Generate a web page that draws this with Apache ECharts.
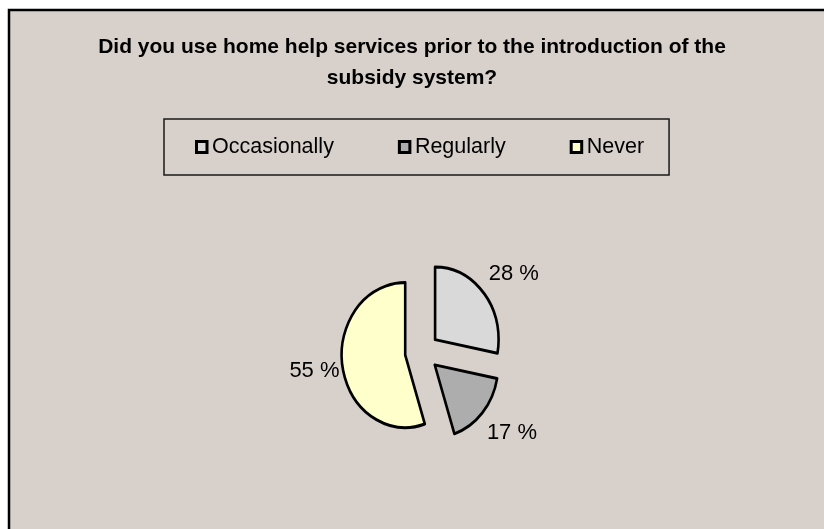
<!DOCTYPE html>
<html>
<head>
<meta charset="utf-8">
<title>Home help services</title>
<script src="https://cdn.jsdelivr.net/npm/echarts@6/dist/echarts.min.js"></script>
<style>
  html, body { margin: 0; padding: 0; background: #fff; }
  #chart { width: 824px; height: 529px; }
</style>
</head>
<body>
<div id="chart"></div>
<script>
const titleText = 'Did you use home help services prior to the introduction of the\nsubsidy system?'
const categories = ['Occasionally', 'Regularly', 'Never']
const shares = [28, 17, 55]
const sliceColors = ['#d9d9d9', '#adadad', '#ffffcc']

const total = shares.reduce((a, b) => a + b, 0)

// pie layout - the original is drawn a bit taller than wide
const pieCenter = [422, 352]
const radiusX = 63.5
const stretchY = 1.142
const explode = 17

function sliceRenderer(idx) {
  return function (params, api) {
    let before = 0
    for (let i = 0; i < idx; i++) before += shares[i]
    const start = -Math.PI / 2 + before / total * Math.PI * 2
    const end = start + api.value(0) / total * Math.PI * 2
    const mid = (start + end) / 2
    const cos = Math.cos(mid)
    const sin = Math.sin(mid)
    const cx = pieCenter[0] + explode * cos
    const cy = pieCenter[1] + explode * sin * stretchY
    // point on the rim at the middle of the slice
    const ex = cx + radiusX * cos
    const ey = cy + radiusX * stretchY * sin
    return {
      type: 'group',
      children: [{
        type: 'sector',
        x: cx,
        y: cy,
        scaleY: stretchY,
        shape: { cx: 0, cy: 0, r0: 0, r: radiusX, startAngle: start, endAngle: end, clockwise: true },
        style: { fill: api.visual('color'), stroke: '#000', lineWidth: 2.6, strokeNoScale: true, lineJoin: 'round' }
      }, {
        type: 'text',
        x: ex + (cos >= 0 ? 6 : 3) * cos,
        y: ey + 31 * sin,
        style: {
          text: api.value(0) + ' %',
          fill: '#000',
          fontFamily: 'Arial, "Liberation Sans"',
          fontSize: 22,
          align: cos >= 0 ? 'left' : 'right',
          verticalAlign: 'middle'
        }
      }]
    }
  }
}

const chart = echarts.init(document.getElementById('chart'))

chart.setOption({
  animation: false,
  color: sliceColors,
  graphic: [{
    type: 'rect',
    silent: true,
    z: -10,
    shape: { x: 9, y: 10, width: 840, height: 540 },
    style: { fill: '#d8d0cb', stroke: '#000', lineWidth: 2.5 }
  }],
  title: {
    text: titleText,
    left: 'center',
    top: 27,
    textStyle: {
      fontFamily: 'Arial, "Liberation Sans"',
      fontWeight: 'bold',
      fontSize: 21,
      lineHeight: 31,
      color: '#000'
    }
  },
  legend: {
    data: categories,
    left: 164,
    top: 119,
    padding: [17, 25, 17, 31],
    itemGap: 64,
    itemWidth: 10.5,
    itemHeight: 11,
    icon: 'rect',
    borderColor: '#1a1a1a',
    borderWidth: 1.5,
    selectedMode: false,
    itemStyle: { borderColor: '#000', borderWidth: 3 },
    textStyle: { fontFamily: 'Arial, "Liberation Sans"', fontSize: 21.5, color: '#000' }
  },
  series: categories.map((name, i) => ({
    type: 'custom',
    name: name,
    coordinateSystem: 'none',
    silent: true,
    renderItem: sliceRenderer(i),
    data: [shares[i]]
  }))
})
</script>
</body>
</html>
